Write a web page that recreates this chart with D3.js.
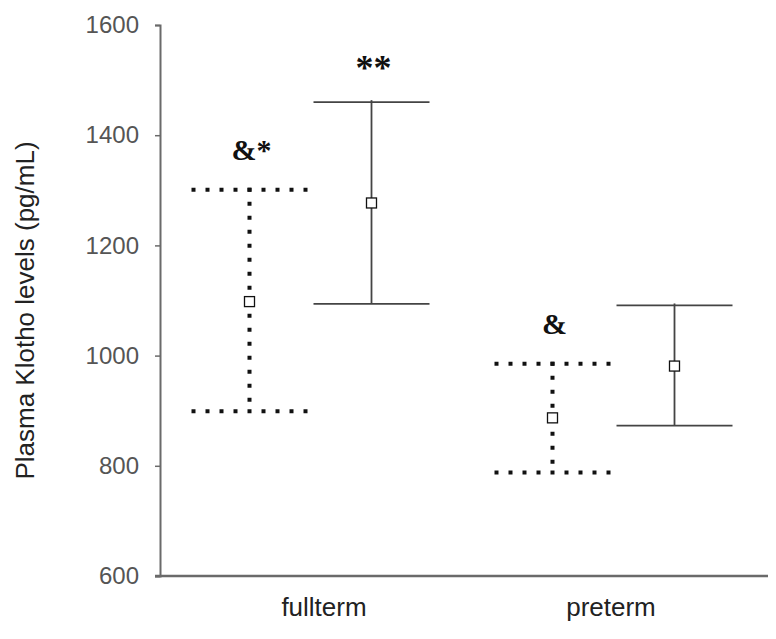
<!DOCTYPE html>
<html><head><meta charset="utf-8">
<script src="https://cdn.jsdelivr.net/npm/d3@7"></script>
<style>body{margin:0;background:#fff}</style>
</head><body>
<svg id="c" width="776" height="639"></svg>
<script>
const categories = ["fullterm", "preterm"];
const seriesNames = ["dotted", "solid"];
const means  = { dotted: [1098, 887], solid: [1277, 981] };
const uppers = { dotted: [1301, 985], solid: [1460, 1091] };
const lowers = { dotted: [899, 788],  solid: [1094, 873] };
const annotations = { dotted: ["&*", "&"], solid: ["**", ""] };
const yTicks = [600, 800, 1000, 1200, 1400, 1600];
const yTitle = "Plasma Klotho levels (pg/mL)";

const svg = d3.select("#c");
const W = 776, H = 639;
const axisX = 160, axisTop = 25, axisBottom = 576;
const y = d3.scaleLinear().domain([600, 1600]).range([axisBottom, axisTop]);
const x = d3.scaleBand().domain(categories).range([159, 765]).padding(0);
const xLabel = d3.scaleBand().domain(categories).range([180.5, 754.5]).padding(0);
const xs = d3.scaleBand().domain(seriesNames).range([-122, 122]).padding(0);
const capW = 116;
const font = "Liberation Sans, Arial, sans-serif";

// y axis
const ya = svg.append("g").attr("transform", `translate(${axisX},0)`)
  .call(d3.axisLeft(y).tickValues(yTicks).tickSize(5).tickPadding(16).tickFormat(d3.format("d")));
ya.select(".domain").attr("stroke", "#6a6a6a").attr("stroke-width", 2);
ya.selectAll(".tick line").attr("stroke", "#6a6a6a").attr("stroke-width", 1.5);
ya.selectAll("text").attr("font-family", font).attr("font-size", 24).attr("fill", "#555");

// x axis line
svg.append("line").attr("x1", axisX - 5).attr("x2", 768).attr("y1", y(600)).attr("y2", y(600))
  .attr("stroke", "#6a6a6a").attr("stroke-width", 2.5);
// category labels
svg.append("g").selectAll("text").data(categories).join("text")
  .attr("x", d => xLabel(d) + xLabel.bandwidth() / 2)
  .attr("y", y(600) + 40)
  .attr("text-anchor", "middle")
  .attr("font-family", font).attr("font-size", 26).attr("fill", "#222")
  .text(d => d);

svg.append("text")
  .attr("transform", `translate(34,${(y(600) + y(1600)) / 2 + 10}) rotate(-90)`)
  .attr("text-anchor", "middle")
  .attr("font-family", font).attr("font-size", 26).attr("fill", "#222")
  .text(yTitle);

seriesNames.forEach(s => {
  const g = svg.append("g");
  const dotted = s === "dotted";
  const stroke = dotted ? "#111" : "#444";
  const dash = dotted ? "4,10" : null;
  categories.forEach((c, i) => {
    const cx = x(c) + x.bandwidth() / 2 + xs(s) + xs.bandwidth() / 2;
    const yt = y(uppers[s][i]), yb = y(lowers[s][i]);
    g.append("line").attr("x1", cx).attr("x2", cx).attr("y1", yt - 2).attr("y2", yb)
      .attr("stroke", stroke).attr("stroke-width", dotted ? 4 : 1.8).attr("stroke-dasharray", dash);
    [uppers[s][i], lowers[s][i]].forEach(v => {
      g.append("line").attr("x1", cx - capW / 2).attr("x2", cx + capW / 2).attr("y1", y(v)).attr("y2", y(v))
        .attr("stroke", stroke).attr("stroke-width", dotted ? 4 : 1.8).attr("stroke-dasharray", dash);
    });
    g.append("rect").attr("x", cx - 5).attr("y", y(means[s][i]) - 5).attr("width", 10).attr("height", 10)
      .attr("fill", "#fff").attr("stroke", "#111").attr("stroke-width", 1.3);
    const a = annotations[s][i];
    if (a) {
      const starsOnly = !a.includes("&");
      g.append("text").attr("x", cx + 2).attr("y", yt - (starsOnly ? 22 : 30))
        .attr("text-anchor", "middle")
        .attr("font-family", "Liberation Serif, Times New Roman, serif").attr("font-weight", "bold")
        .attr("font-size", starsOnly ? 36 : 30).attr("fill", "#111").text(a);
    }
  });
});
</script>
</body></html>
